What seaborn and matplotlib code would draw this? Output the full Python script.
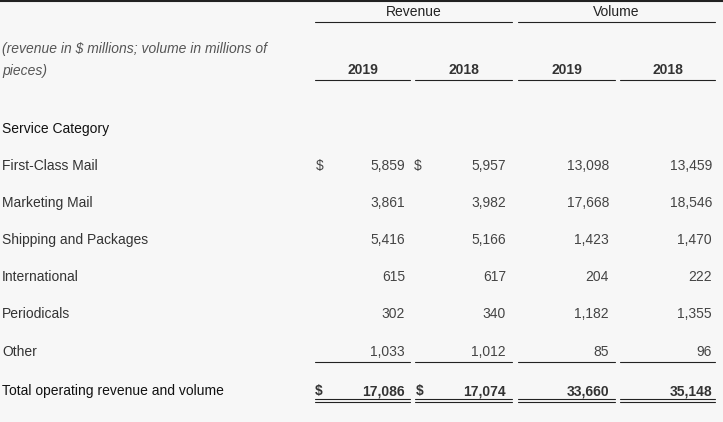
import matplotlib
matplotlib.use("Agg")
import matplotlib.pyplot as plt
import seaborn as sns

# table data
categories = ["First-Class Mail", "Marketing Mail", "Shipping and Packages",
              "International", "Periodicals", "Other"]
rev_2019 = [5859, 3861, 5416, 615, 302, 1033]
rev_2018 = [5957, 3982, 5166, 617, 340, 1012]
vol_2019 = [13098, 17668, 1423, 204, 1182, 85]
vol_2018 = [13459, 18546, 1470, 222, 1355, 96]
total_label = "Total operating revenue and volume"
group_labels = ["Revenue", "Volume"]
year_labels = ["2019", "2018", "2019", "2018"]

sns.set_theme(style="white")
plt.rcParams["font.family"] = ["Liberation Sans", "DejaVu Sans"]

BG = "#f7f7f7"
TXT = "#333333"
NUM = "#444444"
BOLD = "#333333"
FS = 10.0

fig = plt.figure(figsize=(7.23, 4.22), dpi=100, facecolor=BG)
ax = fig.add_axes([0, 0, 1, 1])
ax.set_facecolor(BG)
ax.set_xlim(0, 723)
ax.set_ylim(422, 0)
ax.axis("off")

# column geometry (left, right) in pixels
cols = [(315, 410), (415, 512), (518, 615), (620, 715)]
num_right = [405, 506, 609, 712]

# top rule
ax.plot([0, 723], [1, 1], color="#222222", lw=1.5)

# group headers
for (l, r), lab in zip([(315, 512), (518, 715)], group_labels):
    ax.text((l + r) / 2, 12, lab, ha="center", va="center", fontsize=FS, color="#222222")
    ax.plot([l, r], [22, 22], color="#222222", lw=0.8)

ax.text(2, 49, "(revenue in $ millions; volume in millions of", ha="left", va="center",
        fontsize=FS, style="italic", color="#555555")
ax.text(2, 71, "pieces)", ha="left", va="center",
        fontsize=FS, style="italic", color="#555555")

for (l, r), yr in zip(cols, year_labels):
    ax.text((l + r) / 2, 70, yr, ha="center", va="center", fontsize=FS,
            fontweight="bold", color=BOLD)
    ax.plot([l, r], [80, 80], color="#222222", lw=0.8)

ax.text(2, 129, "Service Category", ha="left", va="center", fontsize=FS, color="#111111")

row_y = [166, 203, 240, 277, 314, 352]
series = [rev_2019, rev_2018, vol_2019, vol_2018]
for i, (cat, y) in enumerate(zip(categories, row_y)):
    ax.text(2, y, cat, ha="left", va="center", fontsize=FS, color=TXT)
    for s, xr in zip(series, num_right):
        ax.text(xr, y, f"{s[i]:,}", ha="right", va="center", fontsize=FS, color=NUM)
    if i == 0:
        ax.text(316, y, "$", ha="left", va="center", fontsize=FS, color=NUM)
        ax.text(414, y, "$", ha="left", va="center", fontsize=FS, color=NUM)

# rules under "Other"
for l, r in cols:
    ax.plot([l, r], [362, 362], color="#222222", lw=0.8)

# total row
ty = 391
ax.text(2, ty, total_label, ha="left", va="center", fontsize=FS, color="#111111")
for s, xr in zip(series, num_right):
    ax.text(xr, ty, f"{sum(s):,}", ha="right", va="center", fontsize=FS,
            fontweight="bold", color=BOLD)
ax.text(315, ty, "$", ha="left", va="center", fontsize=FS, fontweight="bold", color=BOLD)
ax.text(416, ty, "$", ha="left", va="center", fontsize=FS, fontweight="bold", color=BOLD)
for l, r in cols:
    ax.plot([l, r], [399, 399], color="#222222", lw=0.8)
    ax.plot([l, r], [402, 402], color="#222222", lw=0.8)

fig.savefig("out.png", dpi=100, facecolor=BG)
